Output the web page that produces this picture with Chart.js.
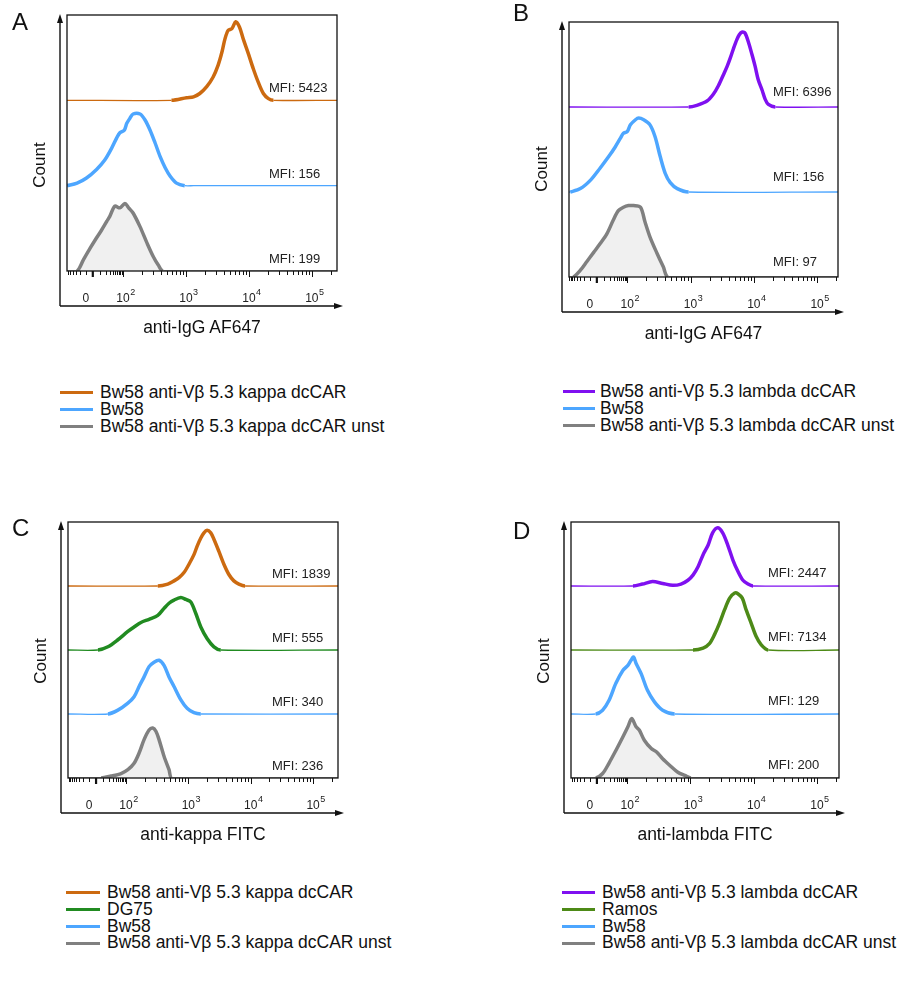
<!DOCTYPE html>
<html>
<head>
<meta charset="utf-8">
<script src="https://cdn.jsdelivr.net/npm/chart.js@4.4.1/dist/chart.umd.min.js"></script>
<style>
  body { margin: 0; background: #fff; }
  #page { position: relative; width: 899px; height: 982px; font-family: 'Liberation Sans', Arial, sans-serif; color: #111; overflow: hidden; }
  canvas { position: absolute; }
  .letter { position: absolute; font-size: 24px; line-height: 24px; }
  .ytitle { position: absolute; font-size: 17px; line-height: 17px; white-space: nowrap; transform: translate(-50%, -50%) rotate(-90deg); }
  .xtitle { position: absolute; font-size: 17.5px; line-height: 18px; white-space: nowrap; transform: translate(-50%, -50%); }
  .lrow { position: absolute; font-size: 17.5px; line-height: 17px; height: 17px; white-space: nowrap; }
  .lrow span.sw { position: absolute; height: 3px; }
</style>
</head>
<body>
<div id="page"></div>
<script>
// histogram points: [position on display axis (decades), normalised count]
const A_kappaCAR = [[2.77,0],[3.01,0.03],[3.12,0.04],[3.22,0.08],[3.33,0.16],[3.43,0.27],[3.51,0.41],[3.57,0.56],[3.62,0.72],[3.67,0.82],[3.73,0.84],[3.79,0.92],[3.85,0.86],[3.91,0.72],[3.99,0.55],[4.07,0.37],[4.15,0.21],[4.23,0.08],[4.31,0.02],[4.39,0]];
const A_bw58 = [[1.11,0],[1.27,0.03],[1.42,0.09],[1.58,0.19],[1.71,0.30],[1.82,0.44],[1.90,0.56],[1.95,0.62],[2.02,0.65],[2.06,0.73],[2.11,0.79],[2.16,0.84],[2.27,0.84],[2.35,0.77],[2.43,0.65],[2.51,0.50],[2.59,0.34],[2.67,0.21],[2.75,0.11],[2.85,0.03],[2.98,0],[3.12,0]];
const A_unst = [[1.27,0],[1.37,0.13],[1.48,0.27],[1.58,0.39],[1.66,0.48],[1.74,0.58],[1.79,0.64],[1.87,0.76],[1.95,0.74],[2.03,0.79],[2.09,0.74],[2.16,0.68],[2.27,0.52],[2.38,0.33],[2.48,0.17],[2.56,0.07],[2.64,0]];

const B_lambdaCAR = [[2.97,0],[3.10,0.02],[3.26,0.07],[3.36,0.15],[3.44,0.25],[3.52,0.38],[3.58,0.48],[3.63,0.58],[3.68,0.69],[3.73,0.79],[3.77,0.85],[3.81,0.88],[3.86,0.87],[3.92,0.75],[3.97,0.62],[4.02,0.48],[4.07,0.32],[4.13,0.20],[4.18,0.09],[4.23,0.03],[4.34,0]];
const B_bw58 = [[1.10,0],[1.26,0.04],[1.42,0.14],[1.57,0.28],[1.71,0.42],[1.81,0.53],[1.89,0.63],[1.94,0.69],[2.00,0.71],[2.05,0.79],[2.13,0.85],[2.18,0.87],[2.26,0.85],[2.36,0.79],[2.44,0.65],[2.52,0.42],[2.60,0.22],[2.68,0.11],[2.79,0.04],[2.97,0]];
const B_unst = [[1.15,0],[1.26,0.08],[1.36,0.18],[1.47,0.29],[1.57,0.39],[1.68,0.51],[1.78,0.67],[1.86,0.78],[1.94,0.82],[2.02,0.84],[2.10,0.84],[2.21,0.82],[2.28,0.65],[2.36,0.47],[2.47,0.28],[2.57,0.12],[2.65,0]];

const C_kappaCAR = [[2.51,0],[2.67,0.03],[2.77,0.08],[2.85,0.13],[2.93,0.21],[3.01,0.34],[3.09,0.49],[3.14,0.62],[3.20,0.75],[3.25,0.83],[3.30,0.87],[3.36,0.83],[3.41,0.73],[3.49,0.54],[3.57,0.34],[3.65,0.18],[3.73,0.08],[3.81,0.03],[3.91,0]];
const C_dg75 = [[1.55,0],[1.71,0.05],[1.87,0.16],[2.03,0.29],[2.13,0.36],[2.24,0.43],[2.37,0.48],[2.51,0.54],[2.61,0.65],[2.69,0.73],[2.77,0.78],[2.88,0.82],[2.96,0.79],[3.04,0.75],[3.12,0.57],[3.20,0.36],[3.30,0.18],[3.41,0.05],[3.52,0]];
const C_bw58 = [[1.71,0],[1.87,0.06],[2.03,0.17],[2.13,0.27],[2.21,0.43],[2.29,0.58],[2.37,0.74],[2.45,0.81],[2.53,0.84],[2.61,0.76],[2.69,0.58],[2.77,0.43],[2.88,0.22],[2.98,0.09],[3.09,0.02],[3.20,0]];
const C_unst = [[1.60,0],[1.76,0.03],[1.92,0.07],[2.03,0.13],[2.13,0.23],[2.21,0.39],[2.29,0.60],[2.37,0.75],[2.43,0.78],[2.48,0.73],[2.53,0.60],[2.61,0.34],[2.69,0.13],[2.74,0]];

const D_lambdaCAR = [[2.09,0],[2.24,0.03],[2.40,0.07],[2.56,0.04],[2.72,0.01],[2.85,0.03],[2.96,0.09],[3.04,0.17],[3.12,0.30],[3.20,0.49],[3.28,0.64],[3.35,0.83],[3.43,0.91],[3.51,0.83],[3.59,0.64],[3.67,0.41],[3.75,0.23],[3.83,0.09],[3.91,0.03],[3.99,0]];
const D_ramos = [[3.04,0],[3.20,0.03],[3.30,0.10],[3.38,0.24],[3.46,0.42],[3.54,0.63],[3.62,0.81],[3.70,0.89],[3.75,0.88],[3.82,0.81],[3.88,0.63],[3.96,0.42],[4.04,0.21],[4.12,0.08],[4.23,0]];
const D_bw58 = [[1.50,0],[1.61,0.06],[1.71,0.21],[1.82,0.48],[1.93,0.68],[2.01,0.76],[2.06,0.84],[2.10,0.89],[2.14,0.79],[2.22,0.63],[2.32,0.37],[2.43,0.19],[2.56,0.06],[2.75,0]];
const D_unst = [[1.50,0],[1.61,0.07],[1.71,0.23],[1.82,0.43],[1.93,0.64],[2.01,0.80],[2.07,0.93],[2.14,0.80],[2.19,0.75],[2.27,0.59],[2.38,0.46],[2.46,0.41],[2.56,0.30],[2.67,0.20],[2.80,0.09],[2.91,0.04],[3.01,0]];

const A_labels = ['Bw58 anti-Vβ 5.3 kappa dcCAR', 'Bw58', 'Bw58 anti-Vβ 5.3 kappa dcCAR unst'];
const B_labels = ['Bw58 anti-Vβ 5.3 lambda dcCAR', 'Bw58', 'Bw58 anti-Vβ 5.3 lambda dcCAR unst'];
const C_labels = ['Bw58 anti-Vβ 5.3 kappa dcCAR', 'DG75', 'Bw58', 'Bw58 anti-Vβ 5.3 kappa dcCAR unst'];
const D_labels = ['Bw58 anti-Vβ 5.3 lambda dcCAR', 'Ramos', 'Bw58', 'Bw58 anti-Vβ 5.3 lambda dcCAR unst'];

const A_mfi = ['5423', '156', '199'];
const B_mfi = ['6396', '156', '97'];
const C_mfi = ['1839', '555', '340', '236'];
const D_mfi = ['2447', '7134', '129', '200'];

const decadeTicks = [2, 3, 4, 5];   // labelled 10^2 .. 10^5
const zeroPos = 1.52;               // where "0" sits on the biex axis

const ORANGE = '#cc6a10', BLUE = '#4da6ff', GREY = '#808080';
const PURPLE = '#7f10f0', GREEN_C = '#218b21', GREEN_D = '#4d8a17';

const panels = [
  { letter: 'A', org: [0, 0], box: [67, 15, 337, 271], xMin: 1.11, xMax: 5.40,
    series: [A_kappaCAR, A_bw58, A_unst], labels: A_labels, colors: [ORANGE, BLUE, GREY], mfi: A_mfi,
    mfiDx: 68, mfiGap: 8, xTitle: 'anti-IgG AF647', letterPos: [12, 10], countY: 165,
    legend: { sw: [60, 93], tx: 100, y0: 393, dy: 16.8 } },
  { letter: 'B', org: [450, 0], box: [569, 22, 838, 277], xMin: 1.08, xMax: 5.33,
    series: [B_lambdaCAR, B_bw58, B_unst], labels: B_labels, colors: [PURPLE, BLUE, GREY], mfi: B_mfi,
    mfiDx: 65, mfiGap: 11, xTitle: 'anti-IgG AF647', letterPos: [513, 1], countY: 169,
    legend: { sw: [563, 595], tx: 600, y0: 392, dy: 16.8 } },
  { letter: 'C', org: [0, 480], box: [68, 522, 338, 778], xMin: 1.07, xMax: 5.40,
    series: [C_kappaCAR, C_dg75, C_bw58, C_unst], labels: C_labels, colors: [ORANGE, GREEN_C, BLUE, GREY], mfi: C_mfi,
    mfiDx: 66, mfiGap: 8, xTitle: 'anti-kappa FITC', letterPos: [12, 516], countY: 661,
    legend: { sw: [66, 100], tx: 107, y0: 893, dy: 16.8 } },
  { letter: 'D', org: [450, 480], box: [571, 522, 839, 778], xMin: 1.11, xMax: 5.35,
    series: [D_lambdaCAR, D_ramos, D_bw58, D_unst], labels: D_labels, colors: [PURPLE, GREEN_D, BLUE, GREY], mfi: D_mfi,
    mfiDx: 71, mfiGap: 9, xTitle: 'anti-lambda FITC', letterPos: [513, 519], countY: 661,
    legend: { sw: [562, 595], tx: 602, y0: 893, dy: 16.8 } }
];

const FONT = "'Liberation Sans', Arial, sans-serif";
const page = document.getElementById('page');

// minor tick positions on the display axis
function minorTicks() {
  const t = [];
  for (let v = 10; v < 100; v += 10) {
    const f = Math.asinh(v / 15) / Math.asinh(100 / 15);
    t.push(zeroPos + (2 - zeroPos) * f, zeroPos - (2 - zeroPos) * f);
  }
  for (let d = 2; d <= 5; d++) for (let k = 2; k <= 9; k++) t.push(d + Math.log10(k));
  return t;
}

function axesPlugin(p) {
  return {
    id: 'flowAxes' + p.letter,
    afterDatasetsDraw(chart) {
      const { ctx, chartArea: a, scales: { x, y } } = chart;
      ctx.save();
      ctx.strokeStyle = '#111';
      ctx.fillStyle = '#111';
      // frame
      ctx.lineWidth = 1.3;
      ctx.strokeRect(a.left, a.top, a.right - a.left, a.bottom - a.top);

      // ticks under the frame
      ctx.lineWidth = 1;
      minorTicks().forEach(v => {
        if (v <= p.xMin || v >= p.xMax) return;
        const px = Math.round(x.getPixelForValue(v)) + 0.5;
        ctx.beginPath(); ctx.moveTo(px, a.bottom); ctx.lineTo(px, a.bottom + 4); ctx.stroke();
      });
      decadeTicks.forEach(d => {
        const px = Math.round(x.getPixelForValue(d)) + 0.5;
        ctx.beginPath(); ctx.moveTo(px, a.bottom); ctx.lineTo(px, a.bottom + 6); ctx.stroke();
      });
      const zx = x.getPixelForValue(zeroPos);
      ctx.lineWidth = 2.2;
      ctx.beginPath(); ctx.moveTo(zx, a.bottom); ctx.lineTo(zx, a.bottom + 6); ctx.stroke();

      // outer arrows
      const ax = a.left - 7, ay = a.bottom + 35;
      ctx.lineWidth = 1.4;
      ctx.beginPath();
      ctx.moveTo(ax, ay); ctx.lineTo(ax, a.top + 6);
      ctx.moveTo(ax, ay); ctx.lineTo(a.right, ay);
      ctx.stroke();
      ctx.beginPath(); ctx.moveTo(ax, a.top - 1); ctx.lineTo(ax - 3, a.top + 8); ctx.lineTo(ax + 3, a.top + 8); ctx.closePath(); ctx.fill();
      ctx.beginPath(); ctx.moveTo(a.right + 6, ay); ctx.lineTo(a.right - 3, ay - 3); ctx.lineTo(a.right - 3, ay + 3); ctx.closePath(); ctx.fill();

      // tick labels
      const ly = ay - 4;
      ctx.fillStyle = '#222';
      ctx.textBaseline = 'alphabetic';
      ctx.font = '12px ' + FONT;
      ctx.textAlign = 'center';
      ctx.fillText('0', zx - 7, ly);
      decadeTicks.forEach(d => {
        const px = x.getPixelForValue(d);
        ctx.font = '12px ' + FONT;
        ctx.textAlign = 'center';
        ctx.fillText('10', px, ly);
        const w = ctx.measureText('10').width;
        ctx.font = '9px ' + FONT;
        ctx.textAlign = 'left';
        ctx.fillText(String(d), px + w / 2 + 0.5, ly - 7);
      });

      // MFI labels
      ctx.font = '13px ' + FONT;
      ctx.textAlign = 'left';
      const n = p.series.length;
      p.mfi.forEach((m, i) => {
        const base = n - 1 - i;
        ctx.fillText('MFI: ' + m, a.right - p.mfiDx, y.getPixelForValue(base) - p.mfiGap);
      });
      ctx.restore();
    }
  };
}

panels.forEach(p => {
  const W = 450, H = 345;
  const [ox, oy] = p.org;
  const [bl, bt, br, bb] = p.box;
  const cv = document.createElement('canvas');
  cv.width = W; cv.height = H;
  cv.style.left = ox + 'px'; cv.style.top = oy + 'px';
  page.appendChild(cv);

  const n = p.series.length;
  const datasets = p.series.map((pts, i) => {
    const base = n - 1 - i;
    const grey = p.colors[i] === GREY;
    const data = [{ x: p.xMin, y: base }]
      .concat(pts.map(([px, c]) => ({ x: px, y: base + c })))
      .concat([{ x: p.xMax, y: base }]);
    return {
      label: p.labels[i],
      data: data,
      borderColor: p.colors[i],
      backgroundColor: grey ? '#f0f0f0' : 'rgba(0,0,0,0)',
      fill: grey ? 'origin' : false,
      borderWidth: 3,
      borderJoinStyle: 'round',
      pointRadius: 0,
      tension: 0.3,
      segment: {
        borderWidth: s => (s.p0.parsed.y - base > 0.004 || s.p1.parsed.y - base > 0.004) ? 3.5 : 1.3
      }
    };
  });

  new Chart(cv.getContext('2d'), {
    type: 'line',
    data: { datasets: datasets },
    options: {
      responsive: false,
      animation: false,
      devicePixelRatio: 1,
      events: [],
      layout: { padding: { left: bl - ox, top: bt - oy, right: W - (br - ox), bottom: H - (bb - oy) } },
      scales: {
        x: { type: 'linear', min: p.xMin, max: p.xMax, display: false },
        y: { type: 'linear', min: 0, max: n, display: false }
      },
      plugins: { legend: { display: false }, tooltip: { enabled: false } }
    },
    plugins: [axesPlugin(p)]
  });

  // panel letter
  const lt = document.createElement('div');
  lt.className = 'letter';
  lt.textContent = p.letter;
  lt.style.left = p.letterPos[0] + 'px';
  lt.style.top = p.letterPos[1] + 'px';
  page.appendChild(lt);

  // axis titles
  const yt = document.createElement('div');
  yt.className = 'ytitle';
  yt.textContent = 'Count';
  yt.style.left = (bl - 28) + 'px';
  yt.style.top = p.countY + 'px';
  page.appendChild(yt);

  const xt = document.createElement('div');
  xt.className = 'xtitle';
  xt.textContent = p.xTitle;
  xt.style.left = ((bl + br) / 2) + 'px';
  xt.style.top = (bb + 56) + 'px';
  page.appendChild(xt);

  // legend
  p.labels.forEach((lab, i) => {
    const cy = p.legend.y0 + i * p.legend.dy;
    const row = document.createElement('div');
    row.className = 'lrow';
    row.style.left = p.legend.tx + 'px';
    row.style.top = (cy - 9.1) + 'px';
    row.textContent = lab;
    const sw = document.createElement('span');
    sw.className = 'sw';
    sw.style.background = p.colors[i];
    sw.style.left = (p.legend.sw[0] - p.legend.tx) + 'px';
    sw.style.width = (p.legend.sw[1] - p.legend.sw[0]) + 'px';
    sw.style.top = '7.6px';
    row.appendChild(sw);
    page.appendChild(row);
  });
});
</script>
</body>
</html>
